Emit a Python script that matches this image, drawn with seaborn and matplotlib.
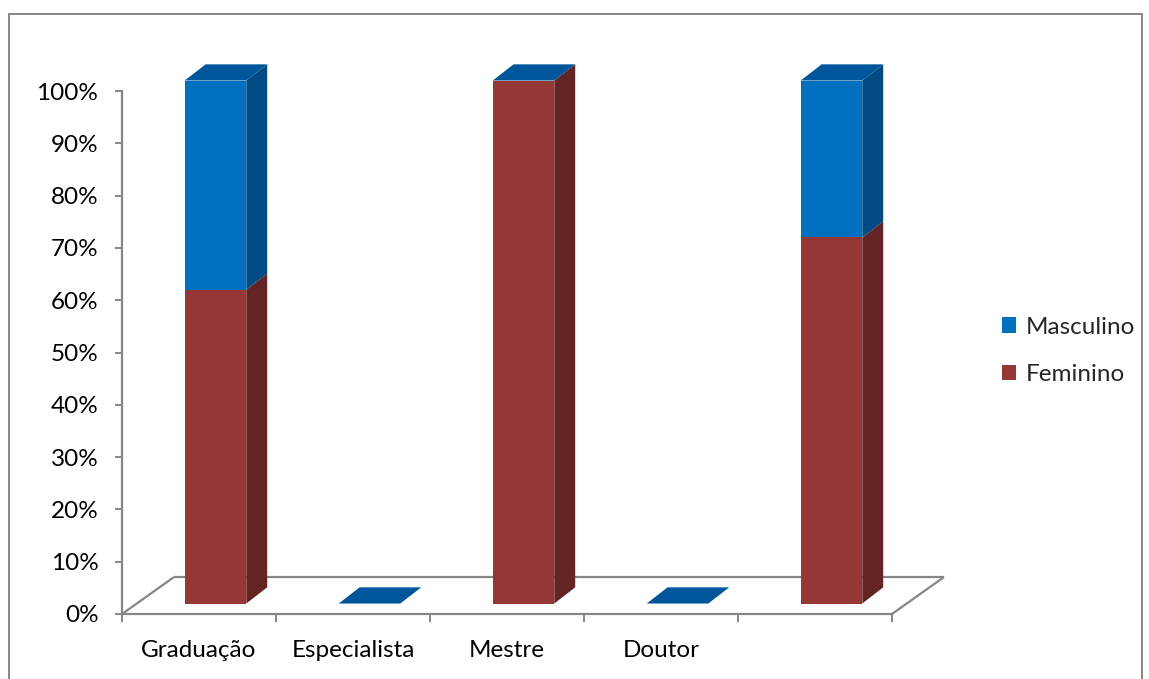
import matplotlib
matplotlib.use("Agg")
import matplotlib.pyplot as plt
import matplotlib.transforms as mtransforms
from matplotlib.patches import Polygon, Rectangle, Patch
from matplotlib.lines import Line2D
import numpy as np
import pandas as pd
import seaborn as sns

# Data
categories = ["Graduação", "Especialista", "Mestre", "Doutor", ""]
feminino = [60, 0, 100, 0, 70]
masculino = [40, 0, 0, 0, 30]
series_names = ["Masculino", "Feminino"]
y_ticks = [0, 10, 20, 30, 40, 50, 60, 70, 80, 90, 100]

sns.set_theme(style="white")
plt.rcParams["font.family"] = ["Lato", "DejaVu Sans"]

# Colours
BLUE_FRONT = "#0070C0"
BLUE_SIDE = "#004B83"
BLUE_TOP = "#00569A"
RED_FRONT = "#953735"
RED_SIDE = "#632423"
AXIS_GREY = "#868686"
FONT_SIZE = 17.5

# Pseudo-3D geometry (category units horizontally, percent vertically)
BAR_W = 0.40
FRONT_DX, FRONT_DY = 0.107, 2.0     # bar plane offset from the axis plane
DEPTH_DX, DEPTH_DY = 0.136, 3.1     # bar depth
FLOOR_DX, FLOOR_DY = 0.338, 7.07    # floor depth

fig = plt.figure(figsize=(11.49, 6.79), dpi=100)
ax = fig.add_axes([122 / 1149, (679 - 614) / 679, (892 - 122) / 1149, (614 - 91) / 679])

total = [f + m for f, m in zip(feminino, masculino)]
df = pd.DataFrame({"nivel": categories, "total": total, "feminino": feminino})

sns.barplot(data=df, x="nivel", y="total", color=BLUE_FRONT, saturation=1,
            width=BAR_W, ax=ax, linewidth=0, zorder=3)
sns.barplot(data=df, x="nivel", y="feminino", color=RED_FRONT, saturation=1,
            width=BAR_W, ax=ax, linewidth=0, zorder=3)

shift = mtransforms.Affine2D().translate(FRONT_DX, FRONT_DY) + ax.transData
for p in ax.patches:
    p.set_transform(shift)
    p.set_clip_on(False)


def face(pts, color, z):
    poly = Polygon(pts, closed=True, facecolor=color, edgecolor="none",
                   transform=shift, clip_on=False, zorder=z)
    ax.add_patch(poly)


for i, (f, t) in enumerate(zip(feminino, total)):
    x0, x1 = i - BAR_W / 2, i + BAR_W / 2
    # right side faces
    if f > 0:
        face([(x1, 0), (x1 + DEPTH_DX, DEPTH_DY), (x1 + DEPTH_DX, f + DEPTH_DY), (x1, f)], RED_SIDE, 2.5)
    if t > f:
        face([(x1, f), (x1 + DEPTH_DX, f + DEPTH_DY), (x1 + DEPTH_DX, t + DEPTH_DY), (x1, t)], BLUE_SIDE, 2.5)
    # top face (stack top belongs to Masculino)
    face([(x0, t), (x0 + DEPTH_DX, t + DEPTH_DY), (x1 + DEPTH_DX, t + DEPTH_DY), (x1, t)], BLUE_TOP, 2.5)

# Floor outline
xl, xr = -0.5, len(categories) - 0.5
floor_kw = dict(color=AXIS_GREY, lw=1.6, clip_on=False, zorder=1, solid_capstyle="butt")
ax.add_line(Line2D([xl, xl + FLOOR_DX], [0, FLOOR_DY], **floor_kw))
ax.add_line(Line2D([xr, xr + FLOOR_DX], [0, FLOOR_DY], **floor_kw))
ax.add_line(Line2D([xl + FLOOR_DX, xr + FLOOR_DX], [FLOOR_DY, FLOOR_DY], **floor_kw))

ax.set_xlim(xl, xr)
ax.set_ylim(0, 100)

for s in ["top", "right"]:
    ax.spines[s].set_visible(False)
for s in ["left", "bottom"]:
    ax.spines[s].set_color(AXIS_GREY)
    ax.spines[s].set_linewidth(1.6)
    ax.spines[s].set_zorder(1)

ax.set_yticks(y_ticks)
ax.set_yticklabels([f"{v}%" for v in y_ticks])
ax.tick_params(axis="y", direction="out", length=5, width=1.4, color=AXIS_GREY,
               labelsize=FONT_SIZE, pad=12, left=True, labelcolor="black")

ax.set_xticks(range(len(categories)))
ax.set_xticklabels(categories)
ax.set_xticks(np.arange(xl, xr + 0.01, 1.0), minor=True)
ax.tick_params(axis="x", which="major", length=0, labelsize=FONT_SIZE, pad=19, labelcolor="black")
ax.tick_params(axis="x", which="minor", direction="out", length=6, width=1.4,
               color=AXIS_GREY, bottom=True)
ax.set_xlabel("")
ax.set_ylabel("")
ax.grid(False)

# Legend
handles = [Patch(facecolor=BLUE_FRONT, edgecolor="none"),
           Patch(facecolor=RED_FRONT, edgecolor="none")]
fig.legend(handles, series_names, loc="center left",
           bbox_to_anchor=(1002 / 1149, 1 - 351 / 679), frameon=False,
           fontsize=FONT_SIZE, handlelength=0.58, handleheight=0.58, handletextpad=0.4,
           labelspacing=1.1, borderpad=0, borderaxespad=0)

# Outer chart frame
fig.patches.append(Rectangle((9 / 1149, -0.02), (1142 - 9) / 1149, (679 - 14) / 679 + 0.02,
                             transform=fig.transFigure, fill=False,
                             edgecolor=AXIS_GREY, lw=1.4))

fig.savefig("out.png", dpi=100)
